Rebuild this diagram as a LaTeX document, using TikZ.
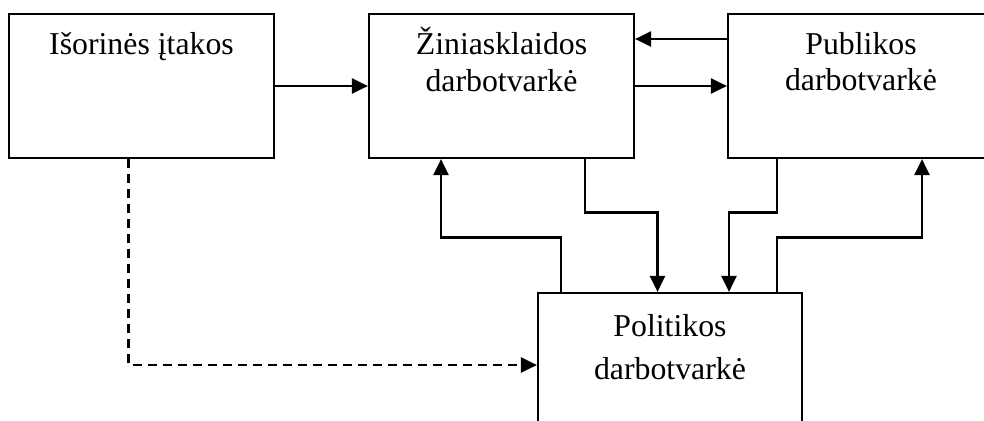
\documentclass[tikz,border=0pt]{standalone}
\usepackage{fontspec}
\setmainfont{Liberation Serif}
\usetikzlibrary{arrows.meta}
\tikzset{
  box/.style={draw, line width=2.2pt, rectangle, inner sep=0pt},
  lbl/.style={anchor=base, inner sep=0pt, font=\fontsize{31.8}{38}\selectfont},
  conn/.style={line width=2.4pt},
  arr/.style={conn, -{Triangle[length=16pt,width=15pt]}},
  dasharr/.style={arr, dash pattern=on 9pt off 6pt}
}
\begin{document}
\begin{tikzpicture}[x=1pt,y=-1pt]
\useasboundingbox (0,0) rectangle (984,420);
\clip (0,0) rectangle (984,420);
% boxes
\node[box, minimum width=265pt, minimum height=144pt] (ext) at (141.5,86) {};
\node[box, minimum width=265pt, minimum height=144pt] (zin) at (501.5,86) {};
\node[box, minimum width=266pt, minimum height=144pt] (pub) at (861,86) {};
\node[box, minimum width=264pt, minimum height=144pt] (pol) at (670,365) {};
% texts
\node[lbl] (t1) at (141.5,55) {Išorinės įtakos};
\node[lbl] (t2a) at (501.5,54.3) {Žiniasklaidos};
\node[lbl] (t2b) at (501.5,91) {darbotvarkė};
\node[lbl] (t3a) at (861,54.3) {Publikos};
\node[lbl] (t3b) at (861,90.7) {darbotvarkė};
\node[lbl] (t4a) at (670,336.2) {Politikos};
\node[lbl] (t4b) at (670,379) {darbotvarkė};
% connectors
\draw[arr] (ext) -- (zin);
\draw[arr] ([yshift=47pt]pub.west) -- ([yshift=47pt]zin.east);
\draw[arr] (zin) -- (pub);
\draw[arr] ([xshift=83.5pt]zin.south) -- ++(0,53.5) -| ([xshift=-12.5pt]pol.north);
\draw[arr] ([xshift=-109pt]pol.north) -- ++(0,-54.4) -| ([xshift=-60.5pt]zin.south);
\draw[arr] ([xshift=-84pt]pub.south) -- ++(0,53.5) -| ([xshift=59pt]pol.north);
\draw[arr] ([xshift=107pt]pol.north) -- ++(0,-54.4) -| ([xshift=61pt]pub.south);
\draw[dasharr] ([xshift=-12.9pt]ext.south) |- (pol.west);
\end{tikzpicture}
\end{document}
